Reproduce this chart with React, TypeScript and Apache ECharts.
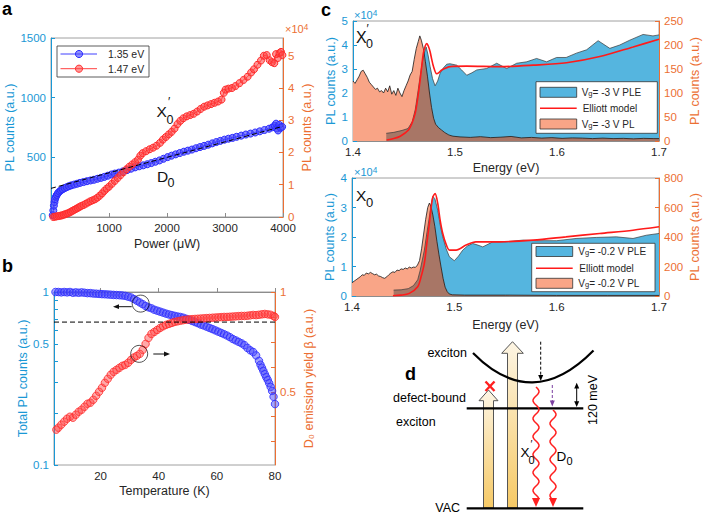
import React, { useEffect, useRef } from 'react';
import * as echarts from 'echarts';

const FF = '"Liberation Sans", Arial, Helvetica, sans-serif';
const BLUE_AX = '#1a98d5';
const ORANGE_AX = '#ec6f33';
const GRAY = '#8c8c8c';
const TXT = '#262626';

// ---------- panel a ----------
const aXTicks = [1000, 2000, 3000, 4000];
const aLeftTicks = [0, 500, 1000, 1500];
const aRightTicks = [0, 1, 2, 3, 4, 5];
const aBlue: [number, number][] = [[30,15],[40,55],[50,95],[60,125],[70,150],[85,170],[100,185],[120,200],[145,213],[170,223],[200,232],[235,242],[270,250],[310,258],[350,265],[400,272],[450,279],[500,286],[560,293],[620,300],[680,306],[740,312],[800,320],[860,328],[920,336],[980,346],[1040,356],[1100,364],[1170,372],[1240,382],[1310,393],[1380,405],[1450,416],[1520,425],[1590,433],[1660,442],[1730,452],[1800,463],[1870,474],[1940,488],[2010,502],[2080,514],[2150,525],[2220,536],[2290,547],[2360,556],[2430,565],[2500,576],[2570,586],[2640,596],[2710,606],[2780,617],[2850,628],[2920,638],[2990,648],[3060,656],[3130,663],[3200,672],[3280,682],[3360,691],[3440,699],[3520,708],[3600,718],[3680,729],[3760,740],[3820,752],[3860,765],[3880,782],[3900,742],[3915,725],[3935,772],[3960,748],[3985,756]];
const aRed: [number, number][] = [[40,0],[70,0.01],[100,0.02],[130,0.03],[160,0.04],[190,0.05],[220,0.07],[250,0.09],[280,0.11],[310,0.13],[340,0.16],[370,0.19],[400,0.22],[430,0.25],[460,0.28],[490,0.31],[520,0.34],[560,0.37],[600,0.41],[640,0.45],[680,0.49],[720,0.52],[760,0.55],[800,0.6],[840,0.66],[880,0.73],[920,0.81],[960,0.88],[1000,0.94],[1050,1.03],[1100,1.12],[1150,1.21],[1200,1.3],[1250,1.39],[1300,1.48],[1350,1.56],[1400,1.63],[1450,1.7],[1500,1.78],[1540,1.9],[1580,1.98],[1640,2.04],[1700,2.1],[1760,2.15],[1820,2.21],[1880,2.3],[1930,2.4],[1980,2.48],[2030,2.56],[2080,2.64],[2130,2.74],[2180,2.88],[2230,2.98],[2280,3.06],[2340,3.12],[2400,3.16],[2460,3.2],[2520,3.27],[2580,3.35],[2640,3.42],[2700,3.46],[2760,3.5],[2820,3.54],[2880,3.58],[2940,3.64],[2980,3.85],[3010,3.95],[3060,3.98],[3120,4.0],[3180,4.06],[3250,4.15],[3320,4.25],[3390,4.35],[3450,4.48],[3500,4.58],[3560,4.72],[3620,4.85],[3670,5.0],[3720,5.02],[3770,4.86],[3810,4.8],[3850,4.77],[3880,5.05],[3910,4.93],[3940,5.08],[3965,5.12],[3990,5.02]];
const aFit: [number, number][] = [[0, 240], [4000, 760]];

// ---------- panel b ----------
const bXTicks = [20, 40, 60, 80];
const bLeftLabels = [0.1, 0.5, 1];
const bLeftTicks = [0.1, 0.2, 0.3, 0.4, 0.5, 0.6, 0.7, 0.8, 0.9, 1];
const bRightLabels = [0.5, 1];
const bRightTicks = [0.25, 0.375, 0.5, 0.625, 0.75, 0.875, 1];
const bBlue: [number, number][] = [[4.5,1.0],[5.5,1.0],[6.5,0.995],[7.5,1.0],[8.5,0.995],[9.5,1.0],[10.5,0.99],[11.5,0.995],[12.5,0.99],[13.5,0.995],[14.5,0.99],[15.5,0.985],[16.5,0.985],[17.5,0.98],[18.5,0.978],[19.5,0.975],[20.5,0.972],[21.5,0.97],[22.5,0.968],[23.5,0.965],[24.5,0.962],[25.5,0.96],[26.5,0.958],[27.5,0.955],[28.5,0.95],[29.5,0.94],[30.5,0.93],[31.5,0.91],[32.5,0.89],[33.5,0.87],[34.5,0.85],[35.5,0.83],[36.5,0.815],[37.5,0.805],[38.5,0.79],[39.5,0.78],[40.5,0.77],[41.5,0.76],[42.5,0.75],[43.5,0.742],[44.5,0.735],[45.5,0.728],[46.5,0.722],[47.5,0.717],[48.5,0.71],[49.5,0.7],[50.5,0.69],[51.5,0.68],[52.5,0.67],[53.5,0.66],[54.5,0.648],[55.5,0.64],[56.5,0.63],[57.5,0.62],[58.5,0.61],[59.5,0.6],[60.5,0.59],[61.5,0.58],[62.5,0.57],[63.5,0.56],[64.5,0.548],[65.5,0.535],[66.5,0.525],[67.5,0.515],[68.5,0.505],[69.5,0.493],[70.5,0.475],[71.5,0.46],[72.5,0.45],[73.5,0.43],[74.5,0.4],[75,0.38],[75.5,0.365],[76,0.35],[76.5,0.335],[77,0.322],[77.5,0.31],[78,0.297],[78.5,0.283],[79,0.268],[79.5,0.248],[80,0.225]];
const bRed: [number, number][] = [[4.8,0.31],[5.5,0.32],[6.5,0.335],[7.5,0.35],[8.5,0.365],[9.5,0.375],[10.5,0.37],[11.5,0.385],[12.5,0.4],[13.5,0.41],[14.5,0.425],[15.5,0.44],[16.5,0.445],[17.5,0.46],[18.5,0.48],[19.5,0.5],[20.5,0.52],[21.5,0.545],[22.5,0.565],[23.5,0.585],[24.5,0.6],[25.5,0.61],[26.5,0.62],[27.5,0.63],[28.5,0.635],[29.5,0.645],[30.5,0.66],[31.5,0.672],[32.5,0.68],[33.5,0.69],[34.5,0.71],[35.5,0.74],[36.5,0.77],[37.5,0.79],[38.5,0.8],[39.5,0.81],[40.5,0.82],[41.5,0.828],[42.5,0.835],[43.5,0.84],[44.5,0.845],[45.5,0.85],[46.5,0.853],[47.5,0.856],[48.5,0.859],[49.5,0.861],[50.5,0.863],[51.5,0.864],[52.5,0.865],[53.5,0.866],[54.5,0.867],[55.5,0.868],[56.5,0.869],[57.5,0.87],[58.5,0.871],[59.5,0.872],[60.5,0.873],[61.5,0.874],[62.5,0.875],[63.5,0.875],[64.5,0.876],[65.5,0.877],[66.5,0.878],[67.5,0.879],[68.5,0.88],[69.5,0.88],[70.5,0.881],[71.5,0.883],[72.5,0.885],[73.5,0.884],[74.5,0.886],[75.5,0.888],[76.5,0.89],[77.5,0.888],[78.5,0.886],[79.5,0.88],[80,0.875]];
const bThreshold = 0.67;
const bMarkBlue: [number, number] = [33.8, 0.857];
const bMarkRed: [number, number] = [33.3, 0.69];

// ---------- panel c ----------
const cXTicks = [1.4, 1.5, 1.6, 1.7];
const c1LeftTicks = [0, 1, 2, 3, 4, 5];
const c1RightTicks = [0, 50, 100, 150, 200, 250];
const c2LeftTicks = [0, 1, 2, 3, 4];
const c2RightTicks = [0, 200, 400, 600, 800];

const c1PL: [number, number][] = [[1.400,2.5],[1.402,2.4],[1.404,2.55],[1.406,2.7],[1.408,2.9],[1.410,2.95],[1.412,2.8],[1.414,2.65],[1.416,2.45],[1.418,2.35],[1.420,2.25],[1.422,2.15],[1.424,2.2],[1.426,2.05],[1.428,2.1],[1.430,2.0],[1.432,2.2],[1.434,2.05],[1.436,2.3],[1.438,1.95],[1.440,2.1],[1.442,1.9],[1.444,2.2],[1.446,2.0],[1.448,1.85],[1.450,2.1],[1.452,2.3],[1.454,2.5],[1.456,2.75],[1.458,2.9],[1.460,3.4],[1.462,3.85],[1.464,4.15],[1.4655,4.38],[1.467,4.2],[1.469,3.85],[1.471,3.3],[1.473,2.7],[1.475,2.0],[1.477,1.4],[1.479,0.95],[1.481,0.7],[1.484,0.55],[1.487,0.45],[1.490,0.35],[1.494,0.25],[1.498,0.2],[1.505,0.17],[1.515,0.15],[1.525,0.18],[1.535,0.14],[1.545,0.16],[1.555,0.19],[1.565,0.13],[1.575,0.15],[1.585,0.12],[1.595,0.14],[1.605,0.11],[1.615,0.13],[1.625,0.12],[1.635,0.1],[1.645,0.12],[1.655,0.1],[1.665,0.11],[1.675,0.09],[1.685,0.11],[1.695,0.1],[1.700,0.1]];
const c1PLE: [number, number][] = [[1.4326,16],[1.440,18],[1.448,22],[1.454,26],[1.458,40],[1.461,65],[1.4635,100],[1.4658,134],[1.468,165],[1.4698,183],[1.4717,196],[1.4735,180],[1.4756,155],[1.478,130],[1.4805,115],[1.483,125],[1.4854,141],[1.4885,152],[1.4919,160],[1.495,161],[1.5017,158],[1.5065,148],[1.5115,137],[1.5165,142],[1.5213,148],[1.531,151],[1.5409,162],[1.5507,151],[1.5605,162],[1.5703,165],[1.58,172],[1.5898,165],[1.5996,174],[1.609,174],[1.619,183],[1.629,190],[1.6403,209],[1.6518,193],[1.6615,200],[1.6713,210],[1.6844,222],[1.6941,219],[1.7,221]];
const c1Elliott: [number, number][] = [[1.433,2],[1.440,5],[1.4463,10],[1.4544,23],[1.458,38],[1.461,58],[1.4635,90],[1.4658,127],[1.4675,158],[1.469,183],[1.4708,198],[1.4724,203],[1.474,197],[1.4756,186],[1.4772,170],[1.4789,155],[1.482,140],[1.4845,143],[1.487,148],[1.4952,155],[1.5115,156],[1.544,155],[1.5767,158],[1.6093,163],[1.642,176],[1.6746,196],[1.7,212]];
const c1Overlap: [number, number][] = [[1.4326,16],[1.440,18],[1.448,22],[1.454,26],[1.458,40],[1.461,65],[1.4635,100],[1.4658,134],[1.468,165],[1.4692,178],[1.471,165],[1.473,135],[1.475,100],[1.477,70],[1.479,47],[1.481,35],[1.484,27],[1.487,22],[1.490,17],[1.494,12],[1.498,10],[1.505,8.5],[1.515,7.5],[1.525,9],[1.535,7],[1.545,8],[1.555,9.5],[1.565,6.5],[1.575,7.5],[1.585,6],[1.595,7],[1.605,5.5],[1.615,6.5],[1.625,6],[1.635,5],[1.645,6],[1.655,5],[1.665,5.5],[1.675,4.5],[1.685,5.5],[1.695,5],[1.7,5]];

const c2PL: [number, number][] = [[1.400,0.45],[1.402,0.5],[1.404,0.55],[1.406,0.6],[1.408,0.65],[1.410,0.72],[1.412,0.7],[1.414,0.78],[1.416,0.75],[1.418,0.8],[1.420,0.76],[1.422,0.72],[1.424,0.74],[1.426,0.68],[1.428,0.66],[1.430,0.62],[1.432,0.6],[1.434,0.65],[1.436,0.72],[1.438,0.78],[1.440,0.82],[1.442,0.8],[1.444,0.88],[1.446,0.86],[1.448,0.92],[1.450,0.9],[1.452,0.95],[1.454,0.92],[1.456,0.98],[1.458,0.95],[1.460,0.98],[1.462,0.97],[1.464,1.05],[1.466,1.2],[1.468,1.6],[1.470,2.1],[1.472,2.6],[1.474,3.0],[1.4756,3.15],[1.477,3.05],[1.479,2.75],[1.481,2.35],[1.483,1.85],[1.485,1.4],[1.487,0.99],[1.489,0.6],[1.491,0.3],[1.493,0.15],[1.495,0.07],[1.498,0.04],[1.51,0.03],[1.55,0.03],[1.6,0.02],[1.65,0.02],[1.7,0.02]];
const c2PLE: [number, number][] = [[1.4407,40],[1.448,42],[1.455,50],[1.460,70],[1.4642,110],[1.4665,170],[1.4707,311],[1.473,420],[1.4756,536],[1.4775,630],[1.479,675],[1.481,660],[1.4838,582],[1.4865,470],[1.4887,401],[1.492,320],[1.4952,266],[1.5,239],[1.504,270],[1.5082,311],[1.513,340],[1.518,356],[1.523,345],[1.5278,333],[1.5376,367],[1.55,367],[1.567,379],[1.58,375],[1.6,375],[1.619,390],[1.6387,397],[1.6583,401],[1.6746,390],[1.6876,412],[1.7,424]];
const c2Elliott: [number, number][] = [[1.440,2],[1.448,6],[1.456,18],[1.4642,63],[1.4675,130],[1.4707,221],[1.473,350],[1.4756,491],[1.4775,610],[1.479,671],[1.4812,694],[1.4838,627],[1.486,520],[1.4887,424],[1.492,350],[1.4952,311],[1.5017,311],[1.5115,345],[1.521,367],[1.544,367],[1.577,379],[1.609,401],[1.642,424],[1.6746,446],[1.7,469]];
const c2Overlap: [number, number][] = [[1.4407,40],[1.448,42],[1.455,50],[1.460,70],[1.4642,110],[1.4665,170],[1.4707,311],[1.473,420],[1.4756,536],[1.4775,600],[1.479,550],[1.481,470],[1.483,370],[1.485,280],[1.487,198],[1.489,120],[1.491,60],[1.493,30],[1.495,14],[1.498,8],[1.51,6],[1.55,6],[1.6,4],[1.65,4],[1.7,4]];

const C_PLE = '#55b5df';
const C_PL = '#f9a587';
const C_OVER = '#a87666';
const C_ELL = '#ff1a1a';

function xAx(gridIndex: number, min: number, max: number, ticks: number[], name: string, nameGap: number, fmt: (v: number) => string) {
  return {
    type: 'value', gridIndex, min, max, name, nameLocation: 'middle', nameGap,
    nameTextStyle: { color: TXT, fontSize: 12.5, fontFamily: FF },
    axisLine: { show: true, lineStyle: { color: GRAY, width: 1 } },
    axisTick: { show: true, inside: true, length: 4, customValues: ticks, lineStyle: { color: GRAY } },
    axisLabel: { customValues: ticks, color: TXT, fontSize: 11.5, fontFamily: FF, margin: 5, formatter: fmt },
    splitLine: { show: false },
  };
}

function yAx(gridIndex: number, position: string, min: number, max: number, labels: number[], ticks: number[], color: string, name: string, nameGap: number, fmt: (v: number) => string) {
  return {
    type: 'value', gridIndex, position, min, max, name, nameLocation: 'middle', nameGap, nameRotate: 90,
    nameTextStyle: { color, fontSize: 12.5, fontFamily: FF },
    axisLine: { show: true, onZero: false, lineStyle: { color, width: 1 } },
    axisTick: { show: true, inside: true, length: 4, customValues: ticks, lineStyle: { color } },
    axisLabel: { customValues: labels, color, fontSize: 11.5, fontFamily: FF, margin: 5, formatter: fmt },
    splitLine: { show: false },
  };
}

const txt = (x: number, y: number, text: string, fontSize: number, fill: string, align = 'left', extra: any = {}) => ({
  type: 'text', x, y, z: 100,
  style: { text, fontSize, fontFamily: FF, fill, align, textAlign: align, verticalAlign: 'middle', textVerticalAlign: 'middle', ...extra },
});
const ln = (x1: number, y1: number, x2: number, y2: number, stroke: string, lineWidth = 1, lineDash: any = null) => ({
  type: 'line', z: 100, shape: { x1, y1, x2, y2 }, style: { stroke, lineWidth, lineDash },
});
const poly = (points: number[][], fill: string, stroke: any = null, lineWidth = 1) => ({
  type: 'polygon', z: 100, shape: { points }, style: { fill, stroke, lineWidth },
});

function wave(x0: number, y0: number, y1: number, amp: number, period: number) {
  const pts: number[][] = [];
  for (let y = y0; y <= y1; y += 1) pts.push([x0 + amp * Math.sin(((y - y0) / period) * 2 * Math.PI), y]);
  return pts;
}

function upArrow(cx: number, bottom: number, baseY: number, apexY: number, sh: number, hh: number) {
  return {
    type: 'polygon', z: 100,
    shape: { points: [[cx - sh, bottom], [cx - sh, baseY], [cx - hh, baseY], [cx, apexY], [cx + hh, baseY], [cx + sh, baseY], [cx + sh, bottom]] },
    style: {
      fill: { type: 'linear', x: 0, y: 0, x2: 0, y2: 1, colorStops: [{ offset: 0, color: '#fdf5e4' }, { offset: 1, color: '#f6c965' }] },
      stroke: '#555', lineWidth: 1,
    },
  };
}

const subRich = (fs: number, color: string) => ({
  n: { fontSize: fs, fontFamily: FF, fill: color, color },
  s: { fontSize: fs * 0.75, fontFamily: FF, fill: color, color, verticalAlign: 'bottom' },
  u: { fontSize: fs * 0.75, fontFamily: FF, fill: color, color, verticalAlign: 'top' },
});

function buildGraphics() {
  const g: any[] = [];
  // panel letters
  g.push(txt(2, 8.5, 'a', 18, '#000', 'left', { fontWeight: 'bold' }));
  g.push(txt(2, 265.5, 'b', 18, '#000', 'left', { fontWeight: 'bold' }));
  g.push(txt(321, 9.5, 'c', 18, '#000', 'left', { fontWeight: 'bold' }));
  g.push(txt(405, 373.8, 'd', 18, '#000', 'left', { fontWeight: 'bold' }));

  // ×10^4 labels
  g.push(txt(285, 29, '{n|×10}{u|4}', 11, ORANGE_AX, 'left', { rich: subRich(11, ORANGE_AX) }));
  g.push(txt(354, 15, '{n|×10}{u|4}', 11, BLUE_AX, 'left', { rich: subRich(11, BLUE_AX) }));
  g.push(txt(354, 171.5, '{n|×10}{u|4}', 11, BLUE_AX, 'left', { rich: subRich(11, BLUE_AX) }));

  // panel a legend
  g.push({ type: 'rect', z: 100, shape: { x: 57, y: 46, width: 92, height: 31 }, style: { fill: '#fff', stroke: '#333', lineWidth: 0.8 } });
  g.push(ln(60.5, 54, 97, 54, '#4040ff', 1));
  g.push({ type: 'circle', z: 101, shape: { cx: 79, cy: 54, r: 3.6 }, style: { fill: 'rgba(70,70,250,0.6)', stroke: '#3030ff', lineWidth: 1 } });
  g.push(txt(108, 54, '1.35 eV', 10.5, TXT));
  g.push(ln(60.5, 68.7, 97, 68.7, '#ff4040', 1));
  g.push({ type: 'circle', z: 101, shape: { cx: 79, cy: 68.7, r: 3.6 }, style: { fill: 'rgba(255,70,70,0.55)', stroke: '#ff3030', lineWidth: 1 } });
  g.push(txt(108, 68.7, '1.47 eV', 10.5, TXT));

  // panel a annotations
  g.push(txt(156.5, 111.5, 'X', 15.5, '#111'));
  g.push(txt(168, 102, '′', 12, '#111'));
  g.push(txt(166.5, 119.5, '0', 12.5, '#111'));
  g.push(txt(157, 176, 'D', 15.5, '#111'));
  g.push(txt(167.5, 182.5, '0', 12.5, '#111'));

  // panel b arrows
  g.push(ln(131.7, 306.7, 117, 306.7, '#111', 1));
  g.push(poly([[113, 306.7], [119, 304.3], [119, 309.1]], '#111'));
  g.push(ln(153.3, 354, 166, 354, '#111', 1));
  g.push(poly([[170, 354], [164, 351.6], [164, 356.4]], '#111'));

  // panel c annotations
  g.push(txt(356, 37.5, 'X', 16, '#111'));
  g.push(txt(366.5, 28.5, '′', 12, '#111'));
  g.push(txt(366, 44, '0', 12.5, '#111'));
  g.push(txt(356, 195.5, 'X', 15.5, '#111'));
  g.push(txt(366, 202, '0', 13, '#111'));

  // panel c legends
  const legend = (bx: number, by: number, bw: number, bh: number, rows: number[], px: number, pw: number, tx: number, labels: string[]) => {
    g.push({ type: 'rect', z: 100, shape: { x: bx, y: by, width: bw, height: bh }, style: { fill: '#fff', stroke: '#333', lineWidth: 0.8 } });
    g.push({ type: 'rect', z: 101, shape: { x: px, y: rows[0] - 5, width: pw, height: 10 }, style: { fill: C_PLE, stroke: '#333', lineWidth: 0.8 } });
    g.push(ln(px, rows[1], px + pw, rows[1], C_ELL, 1.5));
    g.push({ type: 'rect', z: 101, shape: { x: px, y: rows[2] - 5, width: pw, height: 10 }, style: { fill: C_PL, stroke: '#333', lineWidth: 0.8 } });
    g.push(txt(tx, rows[0], labels[0], 10, TXT, 'left', { rich: subRich(10, TXT) }));
    g.push(txt(tx + 1, rows[1], labels[1], 10, TXT));
    g.push(txt(tx, rows[2], labels[2], 10, TXT, 'left', { rich: subRich(10, TXT) }));
  };
  legend(536, 81.7, 121.3, 51.6, [92.3, 108.3, 124], 540, 36.7, 581.7, ['{n|V}{s|g}{n|= -3 V PLE}', 'Elliott model', '{n|V}{s|g}{n|= -3 V PL}']);
  legend(531.7, 243.3, 123.3, 48.4, [251.5, 268.3, 283.3], 536, 36.7, 578.3, ['{n|V}{s|g}{n|= -0.2 V PLE}', 'Elliott model', '{n|V}{s|g}{n|= -0.2 V PL}']);

  // panel d diagram
  g.push(upArrow(488.5, 508, 400.7, 390, 5, 9.5));
  g.push(upArrow(512.5, 508, 353.3, 341.7, 5, 10.8));
  g.push({ type: 'bezierCurve', z: 100, shape: { x1: 473, y1: 353, x2: 593.5, y2: 350.5, cpx1: 532, cpy1: 413 }, style: { stroke: '#000', lineWidth: 2.2, fill: null } });
  g.push(ln(466.7, 408.3, 583.3, 408.3, '#000', 2.2));
  g.push(ln(466.7, 508.3, 583.3, 508.3, '#000', 2.2));
  // red X
  g.push(ln(485.5, 381.5, 494.5, 391, '#ff2020', 2.4));
  g.push(ln(494.5, 381.5, 485.5, 391, '#ff2020', 2.4));
  // dashed black arrow
  g.push(ln(540.7, 341.7, 540.7, 376, '#000', 1, [3, 2]));
  g.push(poly([[540.7, 381], [538.2, 375], [543.2, 375]], '#000'));
  // purple dashed arrow
  g.push(ln(552.3, 385, 552.3, 401.5, '#7b3fa0', 1, [3, 2]));
  g.push(poly([[552.3, 406.5], [549.8, 400.5], [554.8, 400.5]], '#7b3fa0'));
  // 120 meV double arrow
  g.push(ln(576.7, 387, 576.7, 403, '#000', 1));
  g.push(poly([[576.7, 382.7], [574.2, 388.5], [579.2, 388.5]], '#000'));
  g.push(poly([[576.7, 407], [574.2, 401.2], [579.2, 401.2]], '#000'));
  g.push({ ...txt(593.3, 400, '120 meV', 12.5, '#000', 'center'), rotation: Math.PI / 2 });
  // red wavy arrows
  g.push({ type: 'polyline', z: 100, shape: { points: wave(536, 387, 499, 3, 18) }, style: { stroke: '#ff2020', lineWidth: 1.5, fill: null } });
  g.push(poly([[536, 507], [532, 498], [540, 498]], '#ff2020'));
  g.push({ type: 'polyline', z: 100, shape: { points: wave(553, 410, 499, 3, 18) }, style: { stroke: '#ff2020', lineWidth: 1.5, fill: null } });
  g.push(poly([[553, 507], [549, 498], [557, 498]], '#ff2020'));
  // texts
  g.push(txt(467, 353, 'exciton', 12.5, '#000', 'right'));
  g.push(txt(466, 397.5, 'defect-bound', 12.5, '#000', 'right'));
  g.push(txt(396, 421.5, 'exciton', 12.5, '#000', 'left'));
  g.push(txt(460, 508, 'VAC', 12.5, '#000', 'right'));
  g.push(txt(520.5, 452, 'X', 13.5, '#000'));
  g.push(txt(530.5, 444, '′', 10.5, '#000'));
  g.push(txt(528.5, 460, '0', 11, '#000'));
  g.push(txt(556.5, 456, 'D', 13.5, '#000'));
  g.push(txt(566.5, 461, '0', 11, '#000'));
  return g;
}

const logF = (v: number) => (Math.abs(v - Math.log10(0.1)) < 1e-6 ? '0.1' : Math.abs(v) < 1e-6 ? '1' : '0.5');

function buildOption(): any {
  const blueItem = { color: 'rgba(70,70,250,0.62)', borderColor: '#2a2aff', borderWidth: 1 };
  const redItem = { color: 'rgba(255,70,70,0.58)', borderColor: '#ff2a2a', borderWidth: 1 };
  const lg = (arr: [number, number][]) => arr.map(([x, v]) => [x, Math.log10(v)]);
  return {
    animation: false,
    backgroundColor: '#fff',
    textStyle: { fontFamily: FF },
    grid: [
      { left: 51, top: 38, width: 232, height: 179, show: true, borderColor: '#a0a0a0', borderWidth: 1 },
      { left: 54, top: 292, width: 221, height: 173, show: true, borderColor: '#a0a0a0', borderWidth: 1 },
      { left: 353, top: 21, width: 306, height: 120, show: true, borderColor: '#a0a0a0', borderWidth: 1 },
      { left: 352, top: 178, width: 307, height: 118, show: true, borderColor: '#a0a0a0', borderWidth: 1 },
    ],
    xAxis: [
      xAx(0, 0, 4000, aXTicks, 'Power (μW)', 20, (v) => String(v)),
      xAx(1, 4, 80, bXTicks, 'Temperature (K)', 19, (v) => String(v)),
      xAx(2, 1.4, 1.7, cXTicks, 'Energy (eV)', 20, (v) => v.toFixed(1)),
      xAx(3, 1.4, 1.7, cXTicks, 'Energy (eV)', 22, (v) => v.toFixed(1)),
    ],
    yAxis: [
      yAx(0, 'left', 0, 1500, aLeftTicks, aLeftTicks, BLUE_AX, 'PL counts (a.u.)', 29, (v) => String(v)),
      yAx(0, 'right', 0, 5.55, aRightTicks, aRightTicks, ORANGE_AX, 'PL counts (a.u.)', 17, (v) => String(Math.round(v))),
      yAx(1, 'left', Math.log10(0.1), Math.log10(1), bLeftLabels.map(Math.log10), bLeftTicks.map(Math.log10), BLUE_AX, 'Total PL counts (a.u.)', 23, logF),
      yAx(1, 'right', 0.133, 1, bRightLabels, bRightTicks, ORANGE_AX, 'D₀ emission yield β (a.u.)', 27, (v) => (v === 1 ? '1' : '0.5')),
      yAx(2, 'left', 0, 5, c1LeftTicks, c1LeftTicks, BLUE_AX, 'PL counts (a.u.)', 13, (v) => String(v)),
      yAx(2, 'right', 0, 250, c1RightTicks, c1RightTicks, ORANGE_AX, 'PL counts (a.u.)', 29, (v) => String(v)),
      yAx(3, 'left', 0, 4, c2LeftTicks, c2LeftTicks, BLUE_AX, 'PL counts (a.u.)', 13, (v) => String(v)),
      yAx(3, 'right', 0, 800, c2RightTicks, c2RightTicks, ORANGE_AX, 'PL counts (a.u.)', 29, (v) => String(v)),
    ],
    series: [
      // a
      { type: 'line', xAxisIndex: 0, yAxisIndex: 0, data: aBlue, symbol: 'circle', symbolSize: 7, showSymbol: true, lineStyle: { color: '#4040ff', width: 1 }, itemStyle: blueItem },
      { type: 'line', xAxisIndex: 0, yAxisIndex: 1, data: aRed, symbol: 'circle', symbolSize: 7, showSymbol: true, lineStyle: { color: '#ff4040', width: 1 }, itemStyle: redItem },
      { type: 'line', xAxisIndex: 0, yAxisIndex: 0, data: aFit, symbol: 'none', lineStyle: { color: '#000', width: 1, type: [5, 3] }, z: 5 },
      // b
      { type: 'scatter', xAxisIndex: 1, yAxisIndex: 2, data: lg(bBlue), symbol: 'circle', symbolSize: 7.5, itemStyle: blueItem },
      { type: 'scatter', xAxisIndex: 1, yAxisIndex: 3, data: bRed, symbol: 'circle', symbolSize: 7.5, itemStyle: redItem },
      { type: 'line', xAxisIndex: 1, yAxisIndex: 2, data: [[4, Math.log10(bThreshold)], [80, Math.log10(bThreshold)]], symbol: 'none', lineStyle: { color: '#000', width: 1, type: [5, 3] }, z: 5 },
      { type: 'scatter', xAxisIndex: 1, yAxisIndex: 2, data: [[bMarkBlue[0], Math.log10(bMarkBlue[1])]], symbol: 'circle', symbolSize: 17, itemStyle: { color: 'rgba(0,0,0,0)', borderColor: '#111', borderWidth: 0.9 }, z: 6 },
      { type: 'scatter', xAxisIndex: 1, yAxisIndex: 3, data: [bMarkRed], symbol: 'circle', symbolSize: 17, itemStyle: { color: 'rgba(0,0,0,0)', borderColor: '#111', borderWidth: 0.9 }, z: 6 },
      // c top
      { type: 'line', xAxisIndex: 2, yAxisIndex: 5, data: c1PLE, symbol: 'none', lineStyle: { color: '#3a3a3a', width: 0.7 }, areaStyle: { color: C_PLE, opacity: 1 } },
      { type: 'line', xAxisIndex: 2, yAxisIndex: 4, data: c1PL, symbol: 'none', lineStyle: { width: 0 }, areaStyle: { color: C_PL, opacity: 1 } },
      { type: 'line', xAxisIndex: 2, yAxisIndex: 5, data: c1Overlap, symbol: 'none', lineStyle: { width: 0 }, areaStyle: { color: C_OVER, opacity: 1 } },
      { type: 'line', xAxisIndex: 2, yAxisIndex: 4, data: c1PL, symbol: 'none', lineStyle: { color: '#1a1a1a', width: 0.8 } },
      { type: 'line', xAxisIndex: 2, yAxisIndex: 5, data: c1Elliott, symbol: 'none', smooth: 0.3, lineStyle: { color: C_ELL, width: 1.6 } },
      // c bottom
      { type: 'line', xAxisIndex: 3, yAxisIndex: 7, data: c2PLE, symbol: 'none', lineStyle: { color: '#3a3a3a', width: 0.7 }, areaStyle: { color: C_PLE, opacity: 1 } },
      { type: 'line', xAxisIndex: 3, yAxisIndex: 6, data: c2PL, symbol: 'none', lineStyle: { width: 0 }, areaStyle: { color: C_PL, opacity: 1 } },
      { type: 'line', xAxisIndex: 3, yAxisIndex: 7, data: c2Overlap, symbol: 'none', lineStyle: { width: 0 }, areaStyle: { color: C_OVER, opacity: 1 } },
      { type: 'line', xAxisIndex: 3, yAxisIndex: 6, data: c2PL, symbol: 'none', lineStyle: { color: '#1a1a1a', width: 0.8 } },
      { type: 'line', xAxisIndex: 3, yAxisIndex: 7, data: c2Elliott, symbol: 'none', smooth: 0.3, lineStyle: { color: C_ELL, width: 1.6 } },
    ],
    graphic: { elements: buildGraphics() },
  };
}

export default function App() {
  const ref = useRef<HTMLDivElement>(null);
  useEffect(() => {
    if (!ref.current) return;
    const chart = echarts.init(ref.current, undefined, { renderer: 'svg' });
    chart.setOption(buildOption());
    return () => chart.dispose();
  }, []);
  return <div ref={ref} style={{ position: 'fixed', left: 0, top: 0, width: 704, height: 515, background: '#fff' }} />;
}
